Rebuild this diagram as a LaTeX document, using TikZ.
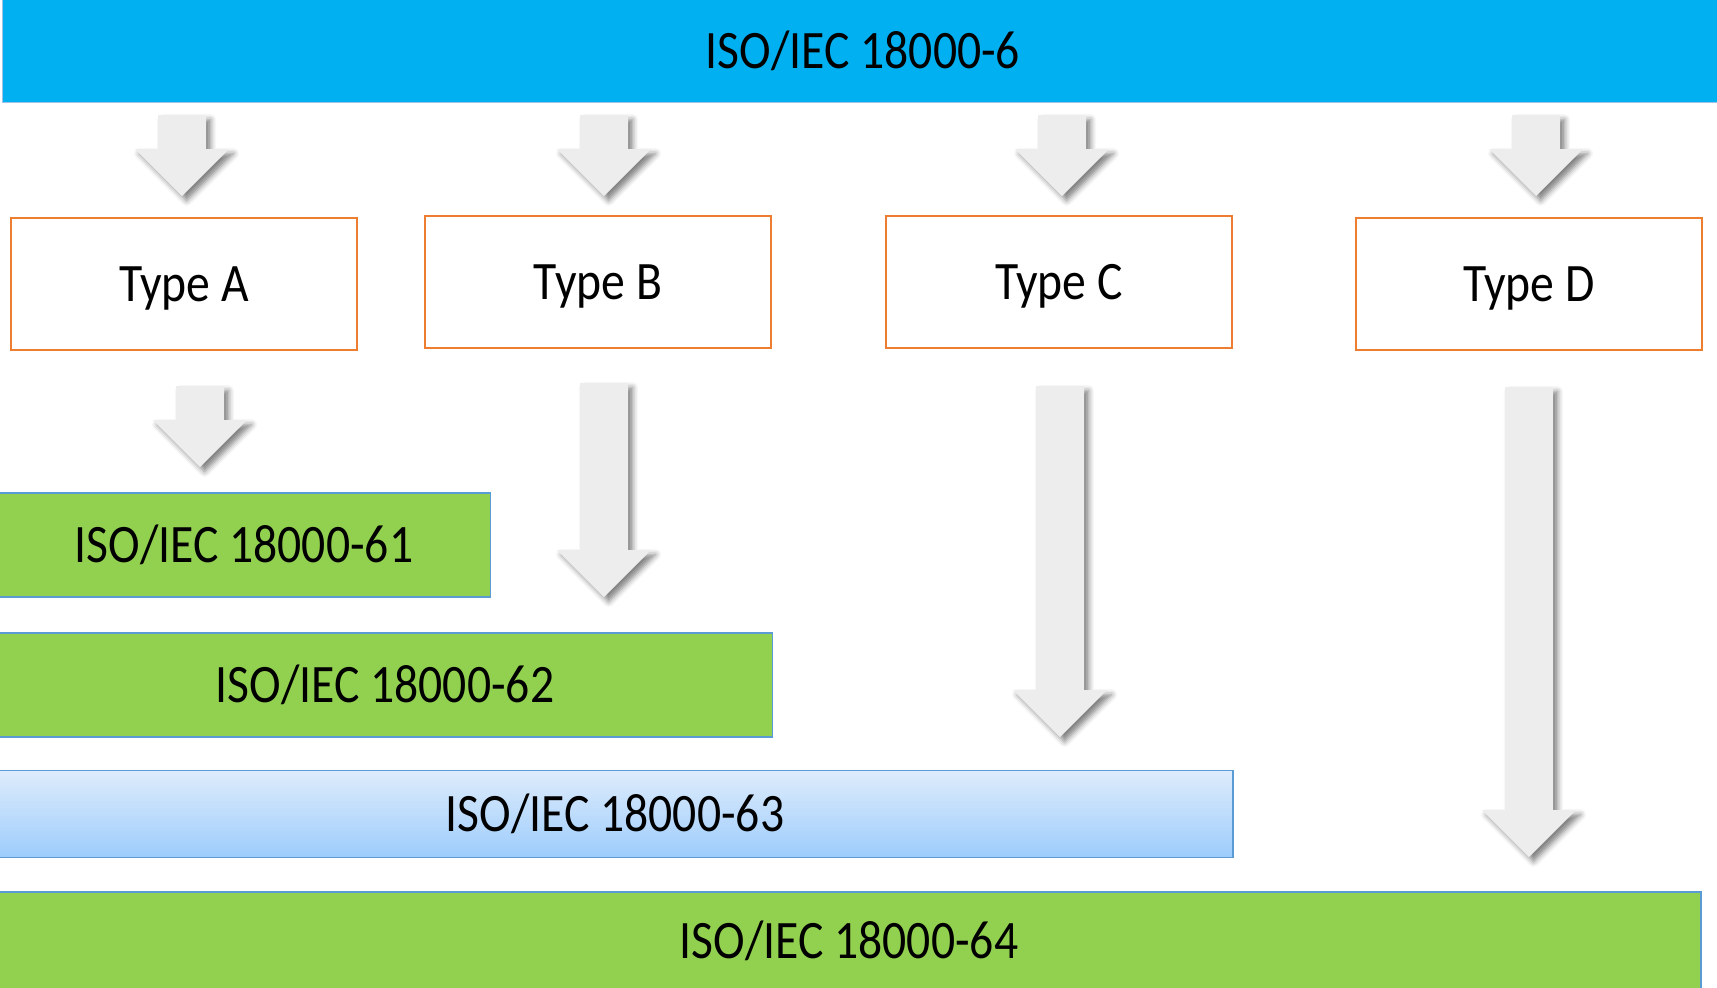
\documentclass[tikz,border=0pt]{standalone}
\usepackage{fontspec}
\setmainfont[FakeStretch=0.88]{Carlito}
\usetikzlibrary{shadows.blur}

\definecolor{isoblue}{HTML}{00B0F0}
\definecolor{typeorange}{HTML}{ED7D31}
\definecolor{partgreen}{HTML}{92D050}
\definecolor{partedge}{HTML}{5B9BD5}
\definecolor{arrowgray}{HTML}{EDEDED}
\definecolor{gradtop}{HTML}{DEECFC}
\definecolor{gradbot}{HTML}{9DCCFC}

\tikzset{
  label/.style={font=\fontsize{15.4}{18}\selectfont, text=black},
  topbar/.style={label, fill=isoblue, draw=partedge!60, line width=0.4pt},
  typebox/.style={label, draw=typeorange, line width=0.7pt, fill=white, text depth=0pt},
  partbox/.style={label, fill=partgreen, draw=partedge, line width=0.4pt},
  gradbox/.style={label, top color=gradtop, bottom color=gradbot, draw=partedge, line width=0.4pt},
  arrowbody/.style={fill=arrowgray, blur shadow={shadow xshift=1.3pt, shadow yshift=-1.3pt, shadow blur radius=1.6pt, shadow opacity=50}}
}

% x, top, tip
\newcommand{\bigarrow}[3]{%
  \fill[arrowbody] (#1-24,#2) -- (#1+24,#2) -- (#1+24,#3-47) -- (#1+47,#3-47)
    -- (#1,#3) -- (#1-47,#3-47) -- (#1-24,#3-47) -- cycle;}

\begin{document}
\begin{tikzpicture}[x=0.01cm, y=-0.01cm]
	\useasboundingbox (0,0) rectangle (1717,987);

	\node[topbar, minimum width=17.2cm, minimum height=1.03cm] (std) at (863,51) {ISO/IEC 18000-6};

	\bigarrow{182}{115}{196}
	\bigarrow{604}{115}{196}
	\bigarrow{1062}{115}{196}
	\bigarrow{1536}{115}{196}

	\node[typebox, minimum width=3.46cm, minimum height=1.32cm] (typeA) at (184,284) {Type A};
	\node[typebox, minimum width=3.46cm, minimum height=1.32cm] (typeB) at (598,282) {Type B};
	\node[typebox, minimum width=3.46cm, minimum height=1.32cm] (typeC) at (1059,282) {Type C};
	\node[typebox, minimum width=3.46cm, minimum height=1.32cm] (typeD) at (1529,284) {Type D};

	\bigarrow{200}{386}{467}
	\bigarrow{604}{383}{597}
	\bigarrow{1060}{386}{737}
	\bigarrow{1529}{387}{857}

	\node[partbox, minimum width=4.93cm, minimum height=1.04cm] (p61) at (244,545) {ISO/IEC 18000-61};
	\node[partbox, minimum width=7.74cm, minimum height=1.04cm] (p62) at (385,685) {ISO/IEC 18000-62};
	\node[gradbox, minimum width=12.35cm, minimum height=0.87cm] (p63) at (615,814) {ISO/IEC 18000-63};
	\node[partbox, minimum width=17.03cm, minimum height=0.98cm] (p64) at (849,941) {ISO/IEC 18000-64};
\end{tikzpicture}
\end{document}
